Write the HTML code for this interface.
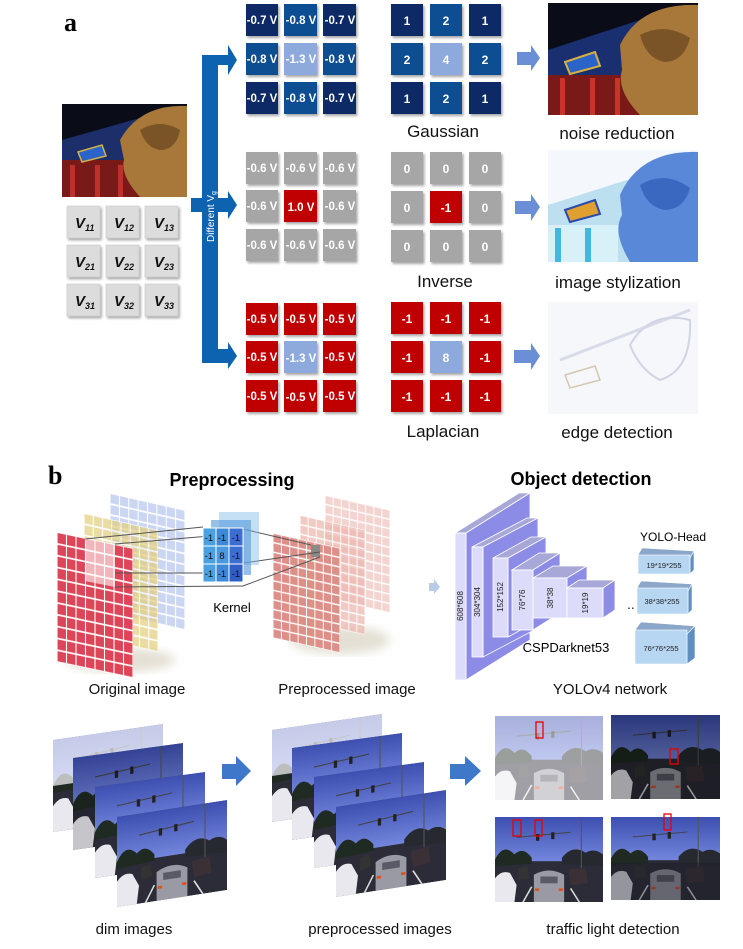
<!DOCTYPE html>
<html><head><meta charset="utf-8"><style>
html,body{margin:0;padding:0;background:#fff}
svg{display:block}
text{font-family:"Liberation Sans",Arial,sans-serif}
</style></head><body>
<svg width="743" height="949" viewBox="0 0 743 949" xmlns="http://www.w3.org/2000/svg">
<defs>
<filter id="sh" x="-20%" y="-20%" width="150%" height="150%"><feDropShadow dx="1.5" dy="2" stdDeviation="1.2" flood-color="#000" flood-opacity="0.35"/></filter>
<filter id="blur4"><feGaussianBlur stdDeviation="5"/></filter>
<pattern id="pRed" width="12.5" height="9.09" patternUnits="userSpaceOnUse"><rect width="12.5" height="9.09" fill="#dc4658" stroke="#fff" stroke-width="1.4" vector-effect="non-scaling-stroke"/></pattern>
<pattern id="pYel" width="12.5" height="9.09" patternUnits="userSpaceOnUse"><rect width="12.5" height="9.09" fill="#e3cf78" stroke="#fff" stroke-width="1.4" vector-effect="non-scaling-stroke"/></pattern>
<pattern id="pBlu" width="12.5" height="9.09" patternUnits="userSpaceOnUse"><rect width="12.5" height="9.09" fill="#b9c8ee" stroke="#fff" stroke-width="1.4" vector-effect="non-scaling-stroke"/></pattern>
<pattern id="pOra" width="12.5" height="9.09" patternUnits="userSpaceOnUse"><rect width="12.5" height="9.09" fill="#dd9088" stroke="#fff" stroke-width="1.4" vector-effect="non-scaling-stroke"/></pattern>
<pattern id="pPnk" width="12.5" height="9.09" patternUnits="userSpaceOnUse"><rect width="12.5" height="9.09" fill="#ecb8b0" stroke="#fff" stroke-width="1.4" vector-effect="non-scaling-stroke"/></pattern>
<linearGradient id="sky" x1="0" y1="0" x2="0" y2="1"><stop offset="0" stop-color="#3d4fb0"/><stop offset="1" stop-color="#7386dc"/></linearGradient>
<linearGradient id="fadeR" x1="0" y1="0" x2="1" y2="0"><stop offset="0" stop-color="#fff" stop-opacity="0"/><stop offset="1" stop-color="#fff" stop-opacity="0.35"/></linearGradient>
<symbol id="street" viewBox="0 0 100 100" preserveAspectRatio="none">
<rect width="100" height="100" fill="#2c2c38"/>
<rect width="100" height="52" fill="url(#sky)"/>
<path d="M0 50 Q8 30 18 44 Q26 34 34 48 L34 55 L0 58Z" fill="#1f2a22"/>
<path d="M62 48 Q72 32 84 42 Q92 36 100 44 L100 58 L62 56Z" fill="#262a30"/>
<line x1="20" y1="24" x2="70" y2="18" stroke="#444" stroke-width="1.2"/>
<rect x="38" y="20" width="3" height="8" fill="#222"/>
<rect x="52" y="18" width="3" height="8" fill="#222"/>
<line x1="80" y1="0" x2="80" y2="60" stroke="#555" stroke-width="1"/>
<path d="M0 100 L0 72 Q6 62 14 66 L20 80 L18 100Z" fill="#e8e8ee"/>
<path d="M36 100 L36 68 Q50 58 64 68 L64 100Z" fill="#9a9aa4"/>
<rect x="42" y="70" width="16" height="8" fill="#5a5a66"/>
<rect x="37" y="84" width="4" height="3" fill="#e05020"/><rect x="59" y="84" width="4" height="3" fill="#e05020"/>
<path d="M22 60 L30 58 L32 72 L22 74Z" fill="#333"/>
<path d="M68 62 L84 60 L86 78 L70 80Z" fill="#3a3036"/>
<path d="M26 100 L34 82" stroke="#ddd" stroke-width="1.5"/><path d="M78 100 L70 84" stroke="#ddd" stroke-width="1.5"/>
</symbol>
</defs>

<!-- ===== PART a ===== -->
<text x="64" y="31" font-family="Liberation Serif,serif" font-weight="bold" font-size="26" style="font-family:'Liberation Serif',serif">a</text>

<!-- original photo -->
<g>
<rect x="62" y="104" width="125" height="93" fill="#0a0c18"/>
<path d="M62 140 L140 118 L150 197 L62 197Z" fill="#1c2f6a"/>
<rect x="62" y="160" width="80" height="37" fill="#7a1a18"/>
<rect x="70" y="165" width="5" height="32" fill="#c0302a"/><rect x="95" y="165" width="5" height="32" fill="#c0302a"/><rect x="118" y="165" width="5" height="32" fill="#c0302a"/>
<path d="M78 152 L102 145 L106 156 L82 162Z" fill="#2a64c8" stroke="#d8b040" stroke-width="1.5"/>
<path d="M120 140 Q140 104 187 106 L187 197 L140 197 Q120 175 124 160Z" fill="#a8783a"/>
<path d="M140 130 Q160 118 180 130 Q176 150 160 150 Q146 148 140 130Z" fill="#7a5426"/>
</g>

<!-- V grid -->
<g filter="url(#sh)" fill="#dcdcdc" stroke="#c8c8c8" stroke-width="0.6">
<rect x="67" y="206" width="33" height="32"/><rect x="106" y="206" width="33" height="32"/><rect x="145" y="206" width="33" height="32"/>
<rect x="67" y="245" width="33" height="32"/><rect x="106" y="245" width="33" height="32"/><rect x="145" y="245" width="33" height="32"/>
<rect x="67" y="284" width="33" height="32"/><rect x="106" y="284" width="33" height="32"/><rect x="145" y="284" width="33" height="32"/>
</g>
<g font-weight="bold" font-style="italic" font-size="15" fill="#111">
<text x="75" y="228">V<tspan font-size="9" dy="3">11</tspan></text>
<text x="114" y="228">V<tspan font-size="9" dy="3">12</tspan></text>
<text x="154" y="228">V<tspan font-size="9" dy="3">13</tspan></text>
<text x="75" y="267">V<tspan font-size="9" dy="3">21</tspan></text>
<text x="114" y="267">V<tspan font-size="9" dy="3">22</tspan></text>
<text x="154" y="267">V<tspan font-size="9" dy="3">23</tspan></text>
<text x="75" y="306">V<tspan font-size="9" dy="3">31</tspan></text>
<text x="114" y="306">V<tspan font-size="9" dy="3">32</tspan></text>
<text x="154" y="306">V<tspan font-size="9" dy="3">33</tspan></text>
</g>

<!-- bracket -->
<g fill="#0e63b0">
<rect x="202" y="55" width="16" height="308"/>
<rect x="202" y="55" width="28" height="10"/>
<polygon points="228,45 237,60 228,75"/>
<rect x="191" y="198" width="39" height="14"/>
<polygon points="228,191 237,205 228,219"/>
<rect x="202" y="349" width="28" height="14"/>
<polygon points="228,342 237,356 228,369"/>
</g>
<text transform="translate(214,242) rotate(-90)" font-size="10" fill="#fff">Different V<tspan font-size="7" dy="2">g</tspan></text>

<!-- voltage grids -->
<g filter="url(#sh)">
<rect x="246" y="4" width="32" height="32" fill="#0b2a66"/><rect x="284" y="4" width="33" height="32" fill="#0d4d92"/><rect x="323" y="4" width="33" height="32" fill="#0b2a66"/>
<rect x="246" y="43" width="32" height="32" fill="#0d4d92"/><rect x="284" y="43" width="33" height="32" fill="#8eaadc"/><rect x="323" y="43" width="33" height="32" fill="#0d4d92"/>
<rect x="246" y="82" width="32" height="32" fill="#0b2a66"/><rect x="284" y="82" width="33" height="32" fill="#0d4d92"/><rect x="323" y="82" width="33" height="32" fill="#0b2a66"/>

<rect x="246" y="152" width="32" height="32" fill="#a6a6a6"/><rect x="284" y="152" width="33" height="32" fill="#a6a6a6"/><rect x="323" y="152" width="33" height="32" fill="#a6a6a6"/>
<rect x="246" y="190" width="32" height="32" fill="#a6a6a6"/><rect x="284" y="190" width="33" height="32" fill="#c00000"/><rect x="323" y="190" width="33" height="32" fill="#a6a6a6"/>
<rect x="246" y="229" width="32" height="32" fill="#a6a6a6"/><rect x="284" y="229" width="33" height="32" fill="#a6a6a6"/><rect x="323" y="229" width="33" height="32" fill="#a6a6a6"/>

<rect x="246" y="303" width="32" height="32" fill="#c00000"/><rect x="284" y="303" width="33" height="32" fill="#c00000"/><rect x="323" y="303" width="33" height="32" fill="#c00000"/>
<rect x="246" y="341" width="32" height="32" fill="#c00000"/><rect x="284" y="341" width="33" height="32" fill="#8eaadc"/><rect x="323" y="341" width="33" height="32" fill="#c00000"/>
<rect x="246" y="380" width="32" height="32" fill="#c00000"/><rect x="284" y="380" width="33" height="32" fill="#c00000"/><rect x="323" y="380" width="33" height="32" fill="#c00000"/>
</g>
<g font-weight="bold" font-size="11.5" fill="#fff" text-anchor="middle">
<text x="262" y="24">-0.7 V</text><text x="301" y="24">-0.8 V</text><text x="340" y="24">-0.7 V</text>
<text x="262" y="63">-0.8 V</text><text x="301" y="63">-1.3 V</text><text x="340" y="63">-0.8 V</text>
<text x="262" y="102">-0.7 V</text><text x="301" y="102">-0.8 V</text><text x="340" y="102">-0.7 V</text>
<text x="262" y="172">-0.6 V</text><text x="301" y="172">-0.6 V</text><text x="340" y="172">-0.6 V</text>
<text x="262" y="210">-0.6 V</text><text x="301" y="211">1.0 V</text><text x="340" y="210">-0.6 V</text>
<text x="262" y="249">-0.6 V</text><text x="301" y="249">-0.6 V</text><text x="340" y="249">-0.6 V</text>
<text x="262" y="323">-0.5 V</text><text x="301" y="323">-0.5 V</text><text x="340" y="323">-0.5 V</text>
<text x="262" y="361">-0.5 V</text><text x="301" y="362">-1.3 V</text><text x="340" y="361">-0.5 V</text>
<text x="262" y="400">-0.5 V</text><text x="301" y="401">-0.5 V</text><text x="340" y="400">-0.5 V</text>
</g>

<!-- kernel grids -->
<g filter="url(#sh)">
<rect x="391" y="4" width="32" height="32" fill="#0b2a66"/><rect x="430" y="4" width="32" height="32" fill="#0d4d92"/><rect x="469" y="4" width="32" height="32" fill="#0b2a66"/>
<rect x="391" y="43" width="32" height="32" fill="#0d4d92"/><rect x="430" y="43" width="32" height="32" fill="#8eaadc"/><rect x="469" y="43" width="32" height="32" fill="#0d4d92"/>
<rect x="391" y="82" width="32" height="32" fill="#0b2a66"/><rect x="430" y="82" width="32" height="32" fill="#0d4d92"/><rect x="469" y="82" width="32" height="32" fill="#0b2a66"/>

<rect x="391" y="152" width="32" height="32" fill="#a6a6a6"/><rect x="430" y="152" width="32" height="32" fill="#a6a6a6"/><rect x="469" y="152" width="32" height="32" fill="#a6a6a6"/>
<rect x="391" y="191" width="32" height="32" fill="#a6a6a6"/><rect x="430" y="191" width="32" height="32" fill="#c00000"/><rect x="469" y="191" width="32" height="32" fill="#a6a6a6"/>
<rect x="391" y="230" width="32" height="32" fill="#a6a6a6"/><rect x="430" y="230" width="32" height="32" fill="#a6a6a6"/><rect x="469" y="230" width="32" height="32" fill="#a6a6a6"/>

<rect x="391" y="302" width="32" height="32" fill="#c00000"/><rect x="430" y="302" width="32" height="32" fill="#c00000"/><rect x="469" y="302" width="32" height="32" fill="#c00000"/>
<rect x="391" y="341" width="32" height="32" fill="#c00000"/><rect x="430" y="341" width="32" height="32" fill="#8eaadc"/><rect x="469" y="341" width="32" height="32" fill="#c00000"/>
<rect x="391" y="380" width="32" height="32" fill="#c00000"/><rect x="430" y="380" width="32" height="32" fill="#c00000"/><rect x="469" y="380" width="32" height="32" fill="#c00000"/>
</g>
<g font-weight="bold" font-size="12" fill="#fff" text-anchor="middle">
<text x="407" y="25">1</text><text x="446" y="25">2</text><text x="485" y="25">1</text>
<text x="407" y="64">2</text><text x="446" y="64">4</text><text x="485" y="64">2</text>
<text x="407" y="103">1</text><text x="446" y="103">2</text><text x="485" y="103">1</text>
<text x="407" y="173">0</text><text x="446" y="173">0</text><text x="485" y="173">0</text>
<text x="407" y="212">0</text><text x="446" y="212">-1</text><text x="485" y="212">0</text>
<text x="407" y="251">0</text><text x="446" y="251">0</text><text x="485" y="251">0</text>
<text x="407" y="323">-1</text><text x="446" y="323">-1</text><text x="485" y="323">-1</text>
<text x="407" y="362">-1</text><text x="446" y="362">8</text><text x="485" y="362">-1</text>
<text x="407" y="401">-1</text><text x="446" y="401">-1</text><text x="485" y="401">-1</text>
</g>
<g font-size="17" fill="#111" text-anchor="middle">
<text x="443" y="137">Gaussian</text>
<text x="445" y="287">Inverse</text>
<text x="443" y="437">Laplacian</text>
<text x="617" y="139">noise reduction</text>
<text x="618" y="288">image stylization</text>
<text x="617" y="438">edge detection</text>
</g>

<!-- light arrows -->
<g fill="#6a8fd6">
<rect x="517" y="52" width="14" height="13"/><polygon points="531,45 540,58 531,71"/>
<rect x="515" y="201" width="16" height="13"/><polygon points="531,194 540,207 531,221"/>
<rect x="514" y="350" width="17" height="13"/><polygon points="531,343 540,356 531,370"/>
</g>

<!-- result images -->
<g>
<rect x="548" y="3" width="150" height="112" fill="#0a0c18"/>
<path d="M548 50 L640 20 L650 115 L548 115Z" fill="#1a2f70"/>
<rect x="548" y="75" width="92" height="40" fill="#7a1a18"/>
<rect x="560" y="78" width="5" height="37" fill="#c8342a"/><rect x="590" y="78" width="5" height="37" fill="#c8342a"/><rect x="615" y="78" width="5" height="37" fill="#c8342a"/>
<path d="M565 62 L595 52 L600 66 L570 74Z" fill="#2a64c8" stroke="#d8b040" stroke-width="2"/>
<path d="M620 45 Q640 3 698 5 L698 115 L640 115 Q616 90 622 70Z" fill="#a8783a"/>
<path d="M640 35 Q665 22 690 38 Q684 62 664 62 Q646 58 640 35Z" fill="#7a5426"/>
</g>
<g>
<rect x="548" y="150" width="150" height="112" fill="#f4f8fc"/>
<path d="M548 205 L690 160 L698 170 L698 262 L548 262Z" fill="#bde0f0"/>
<path d="M620 195 Q640 150 698 152 L698 262 L630 262 Q612 232 622 215Z" fill="#5a88d8"/>
<path d="M640 185 Q665 170 690 188 Q684 210 664 210 Q646 206 640 185Z" fill="#3a68c0"/>
<rect x="548" y="225" width="70" height="37" fill="#d8f0f8"/>
<rect x="555" y="228" width="6" height="34" fill="#40b8e0"/><rect x="585" y="228" width="6" height="34" fill="#40b8e0"/>
<path d="M565 210 L595 200 L600 214 L570 222Z" fill="#e0a030" stroke="#2a4ab0" stroke-width="2"/>
</g>
<g>
<rect x="548" y="302" width="150" height="112" fill="#f6f7fb"/>
<path d="M560 360 L690 310" stroke="#d8dce8" stroke-width="3"/>
<path d="M630 345 Q650 310 690 320 Q692 370 660 380 Q640 370 630 345Z" fill="none" stroke="#d0d4e4" stroke-width="2"/>
<path d="M565 375 L595 366 L600 380 L570 388Z" fill="none" stroke="#d4c8b0" stroke-width="1.5"/>
</g>

<!-- ===== PART b ===== -->
<text x="48" y="484" font-weight="bold" font-size="26" style="font-family:'Liberation Serif',serif">b</text>
<text x="232" y="486" font-weight="bold" font-size="18" text-anchor="middle">Preprocessing</text>
<text x="581" y="485" font-weight="bold" font-size="18" text-anchor="middle">Object detection</text>

<!-- shadows -->
<ellipse cx="120" cy="660" rx="55" ry="12" fill="#c8c0a8" opacity="0.5" filter="url(#blur4)"/>
<ellipse cx="340" cy="640" rx="50" ry="14" fill="#c8c0a8" opacity="0.5" filter="url(#blur4)"/>

<!-- original layers -->
<g transform="matrix(0.75,0.17,0,1.2,110,493)" opacity="0.75"><rect width="100" height="100" fill="url(#pBlu)"/></g>
<g transform="matrix(0.74,0.17,0,1.22,84,513)" opacity="0.7"><rect width="100" height="100" fill="url(#pYel)"/></g>
<g transform="matrix(0.76,0.16,0,1.3,57,532)"><rect width="100" height="100" fill="url(#pRed)"/></g>
<polygon points="85,538 115,544 115,587 85,581" fill="#fff" opacity="0.6"/>

<!-- preprocessed layers -->
<g transform="matrix(0.65,0.15,0,1.03,325,495)" opacity="0.6"><rect width="100" height="100" fill="url(#pPnk)"/></g>
<g transform="matrix(0.65,0.15,0,1.05,300,515)" opacity="0.75"><rect width="100" height="100" fill="url(#pPnk)"/></g>
<g transform="matrix(0.67,0.15,0,1.05,273,533)"><rect width="100" height="100" fill="url(#pOra)"/></g>
<rect x="311" y="545" width="9" height="12" fill="#8a8a88"/>

<!-- connection lines -->
<g stroke="#555" stroke-width="1" fill="none">
<line x1="85" y1="539" x2="203" y2="527"/>
<line x1="115" y1="544" x2="222" y2="535"/>
<line x1="115" y1="573" x2="203" y2="573"/>
<line x1="115" y1="587" x2="243" y2="586"/>
<line x1="243" y1="529" x2="311" y2="545"/>
<line x1="230" y1="565" x2="320" y2="552"/>
<line x1="243" y1="586" x2="320" y2="557"/>
</g>

<!-- kernel -->
<g opacity="0.45" fill="#7fb8e8"><rect x="219" y="512" width="40" height="53"/></g>
<g opacity="0.65" fill="#5a9ee0"><rect x="211" y="520" width="40" height="55"/></g>
<g stroke="#fff" stroke-width="1">
<rect x="203" y="528" width="13" height="18" fill="#4aa0e0"/><rect x="216" y="528" width="13" height="18" fill="#3e88d8"/><rect x="229" y="528" width="14" height="18" fill="#3a6ed0"/>
<rect x="203" y="546" width="13" height="18" fill="#4aa0e0"/><rect x="216" y="546" width="13" height="18" fill="#4a98e0"/><rect x="229" y="546" width="14" height="18" fill="#3a6ed0"/>
<rect x="203" y="564" width="13" height="18" fill="#4aa0e0"/><rect x="216" y="564" width="13" height="18" fill="#3e88d8"/><rect x="229" y="564" width="14" height="18" fill="#2f5fc4"/>
</g>
<g font-size="9.5" fill="#111" text-anchor="middle">
<text x="209" y="541">-1</text><text x="222" y="541">-1</text><text x="236" y="541">-1</text>
<text x="209" y="559">-1</text><text x="222" y="559">8</text><text x="236" y="559">-1</text>
<text x="209" y="577">-1</text><text x="222" y="577">-1</text><text x="236" y="577">-1</text>
</g>
<text x="232" y="612" font-size="13" text-anchor="middle">Kernel</text>

<!-- small arrow -->
<polygon points="429,583 434,583 434,579 440,587 434,594 434,591 429,591" fill="#b8cce8"/>

<!-- YOLO -->
<g stroke="#fff" stroke-width="0.8">
<polygon points="455,533 519,493 530,493 466,533" fill="#a8a8d8"/>
<polygon points="466,533 530,493 530,640 466,680" fill="#8c8ce6"/>
<rect x="455" y="533" width="11" height="147" fill="#dcdcfa"/>
<polygon points="472,547 527,518 538,518 483,547" fill="#a8a8d8"/>
<polygon points="483,547 538,518 538,628 483,657" fill="#8c8ce6"/>
<rect x="472" y="547" width="11" height="110" fill="#dcdcfa"/>
<polygon points="493,558 531,537 546,537 508,558" fill="#a8a8d8"/>
<polygon points="508,558 546,537 546,616 508,637" fill="#8c8ce6"/>
<rect x="493" y="558" width="15" height="79" fill="#dcdcfa"/>
<polygon points="512,570 539,553 560,553 533,570" fill="#a8a8d8"/>
<polygon points="533,570 560,553 560,613 533,630" fill="#8c8ce6"/>
<rect x="512" y="570" width="21" height="60" fill="#dcdcfa"/>
<polygon points="533,578 553,566 587,566 567,578" fill="#a8a8d8"/>
<polygon points="567,578 587,566 587,606 567,618" fill="#8c8ce6"/>
<rect x="533" y="578" width="34" height="40" fill="#dcdcfa"/>
<polygon points="567,588 579,580 615,580 603,588" fill="#a8a8d8"/>
<polygon points="603,588 615,580 615,610 603,618" fill="#8c8ce6"/>
<rect x="567" y="588" width="36" height="30" fill="#dcdcfa"/>
</g>
<g font-size="8" fill="#222" text-anchor="middle">
<text transform="translate(463,606) rotate(-90)">608*608</text>
<text transform="translate(480,602) rotate(-90)">304*304</text>
<text transform="translate(503,597) rotate(-90)">152*152</text>
<text transform="translate(525,600) rotate(-90)">76*76</text>
<text transform="translate(553,598) rotate(-90)">38*38</text>
<text transform="translate(588,603) rotate(-90)">19*19</text>
</g>
<text x="627" y="609" font-size="14" fill="#222">..</text>
<text x="566" y="652" font-size="13" text-anchor="middle">CSPDarknet53</text>
<text x="673" y="541" font-size="12" text-anchor="middle">YOLO-Head</text>
<g stroke="#fff" stroke-width="0.6">
<polygon points="638,555 642,548 694,551 690,558" fill="#8aa6c8"/>
<polygon points="690,558 694,551 694,570 690,574" fill="#5f8fc0"/>
<rect x="638" y="555" width="52" height="19" fill="#b6d6f2"/>
<polygon points="637,588 641,581 692,584 688,591" fill="#8aa6c8"/>
<polygon points="688,591 692,584 692,610 688,614" fill="#5f8fc0"/>
<rect x="637" y="588" width="51" height="26" fill="#b6d6f2"/>
<polygon points="635,630 641,622 695,626 687,634" fill="#8aa6c8"/>
<polygon points="687,634 695,626 695,658 687,664" fill="#5f8fc0"/>
<rect x="635" y="630" width="52" height="34" fill="#b6d6f2"/>
</g>
<g font-size="7.5" fill="#222" text-anchor="middle">
<text x="664" y="568">19*19*255</text>
<text x="662" y="604">38*38*255</text>
<text x="661" y="651">76*76*255</text>
</g>

<g font-size="15" fill="#111" text-anchor="middle">
<text x="137" y="694">Original image</text>
<text x="347" y="694">Preprocessed  image</text>
<text x="610" y="694">YOLOv4 network</text>
</g>

<!-- bottom row: dim images -->
<g>
<g transform="matrix(1.1,-0.16,0,0.92,53,740)"><use href="#street" width="100" height="100"/><rect width="100" height="50" fill="#fff" opacity="0.7"/></g>
<g transform="matrix(1.1,-0.15,0,0.92,73,758)"><use href="#street" width="100" height="100"/><rect width="100" height="100" fill="#000" opacity="0.15"/></g>
<g transform="matrix(1.1,-0.15,0,0.91,95,787)"><use href="#street" width="100" height="100"/></g>
<g transform="matrix(1.1,-0.17,0,0.9,117,817)"><use href="#street" width="100" height="100"/></g>
</g>
<g fill="#3f78c8"><rect x="222" y="764" width="15" height="15"/><polygon points="236,756 251,771 236,786"/></g>
<g>
<g transform="matrix(1.1,-0.16,0,0.92,272,730)"><use href="#street" width="100" height="100"/><rect width="100" height="50" fill="#fff" opacity="0.7"/></g>
<g transform="matrix(1.1,-0.15,0,0.92,292,748)"><use href="#street" width="100" height="100"/></g>
<g transform="matrix(1.1,-0.15,0,0.91,314,777)"><use href="#street" width="100" height="100"/></g>
<g transform="matrix(1.1,-0.17,0,0.9,336,807)"><use href="#street" width="100" height="100"/></g>
</g>
<g fill="#3f78c8"><rect x="450" y="764" width="16" height="15"/><polygon points="465,756 481,771 465,786"/></g>

<!-- detection images -->
<g>
<svg x="495" y="716" width="108" height="84" viewBox="0 0 100 100" preserveAspectRatio="none"><use href="#street" width="100" height="100"/><rect width="100" height="100" fill="#fff" opacity="0.55"/></svg>
<svg x="611" y="715" width="109" height="84" viewBox="0 0 100 100" preserveAspectRatio="none"><use href="#street" width="100" height="100"/><rect width="100" height="100" fill="#000" opacity="0.3"/></svg>
<svg x="495" y="817" width="108" height="85" viewBox="0 0 100 100" preserveAspectRatio="none"><use href="#street" width="100" height="100"/></svg>
<svg x="611" y="817" width="109" height="83" viewBox="0 0 100 100" preserveAspectRatio="none"><use href="#street" width="100" height="100"/><rect y="55" width="100" height="45" fill="#1a1a24" opacity="0.4"/></svg>
</g>
<g fill="none" stroke="#e00" stroke-width="1.3">
<rect x="536" y="722" width="7" height="16"/>
<rect x="670" y="749" width="8" height="15"/>
<rect x="513" y="820" width="8" height="16"/>
<rect x="535" y="820" width="7" height="16"/>
<rect x="664" y="814" width="7" height="16"/>
</g>

<g font-size="15" fill="#111" text-anchor="middle">
<text x="134" y="934">dim images</text>
<text x="380" y="934">preprocessed images</text>
<text x="613" y="934">traffic light detection</text>
</g>
</svg>
</body></html>
